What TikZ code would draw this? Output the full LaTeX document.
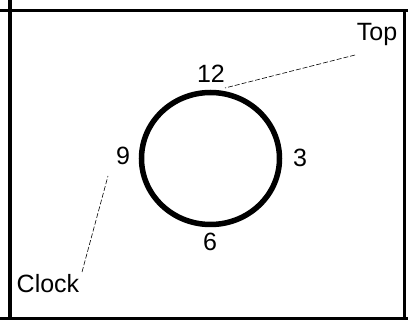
\documentclass[tikz,border=0pt]{standalone}
\usepackage{fontspec}
\setmainfont{Liberation Sans}
\usetikzlibrary{shapes.geometric}
\begin{document}
\begin{tikzpicture}[x=1pt,y=-1pt,
  frame/.style={line width=3.5pt},
  lbl/.style={anchor=base,inner sep=0pt,font=\fontsize{25}{25}\selectfont},
  leader/.style={line width=0.6pt,dash pattern=on 5pt off 2pt}]
\useasboundingbox (0,0) rectangle (408,320);
% frame
\draw[frame] (0,10.5) -- (408,10.5);
\draw[frame] (10,0) -- (10,320);
\draw[line width=3pt] (404.5,10.5) -- (404.5,320);
\draw[line width=3pt] (0,318.5) -- (408,318.5);
% clock face
\node[draw,line width=5.5pt,ellipse,minimum width=138pt,minimum height=132pt,inner sep=0pt] (face) at (210.5,158.5) {};
\node[lbl] (n12) at (211,83) {12};
\node[lbl] (n9) at (123,165) {9};
\node[lbl] (n3) at (300,167) {3};
\node[lbl] (n6) at (210,251) {6};
\node[lbl] (top) at (377,41) {Top};
\node[lbl] (clock) at (48,293) {Clock};
% leaders
\coordinate (topA) at (355,55);
\coordinate (topB) at (225,88);
\coordinate (clkA) at (82,272);
\coordinate (clkB) at (108,176);
\draw[leader] (topA) -- (topB);
\draw[leader] (clkA) -- (clkB);
\end{tikzpicture}
\end{document}
